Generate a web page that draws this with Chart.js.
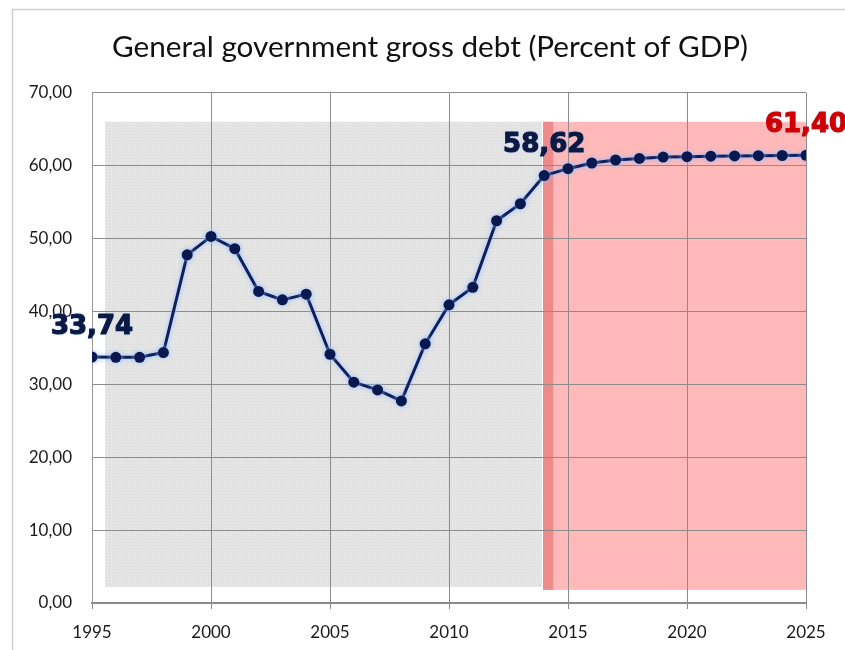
<!DOCTYPE html>
<html>
<head>
<meta charset="utf-8">
<title>General government gross debt</title>
<script src="https://cdn.jsdelivr.net/npm/chart.js@4/dist/chart.umd.min.js"></script>
<style>
  html, body { margin: 0; padding: 0; background: #ffffff; }
  #wrap { width: 845px; height: 650px; position: relative; }
</style>
</head>
<body>
<div id="wrap"><canvas id="chart" width="845" height="650"></canvas></div>
<script>
// Years on the horizontal axis
const years = [1995, 1996, 1997, 1998, 1999, 2000, 2001, 2002, 2003, 2004,
               2005, 2006, 2007, 2008, 2009, 2010, 2011, 2012, 2013, 2014,
               2015, 2016, 2017, 2018, 2019, 2020, 2021, 2022, 2023, 2024, 2025];

// Gross debt, percent of GDP
const debtPct = [33.74, 33.70, 33.70, 34.35, 47.76, 50.28, 48.60, 42.73, 41.58, 42.36,
                 34.12, 30.29, 29.23, 27.72, 35.55, 40.90, 43.30, 52.43, 54.76, 58.62,
                 59.57, 60.35, 60.76, 60.98, 61.17, 61.22, 61.28, 61.32, 61.35, 61.38, 61.40];

// Points that carry a value label, and the label colours
const labelledYears = [1995, 2014, 2025];
const labelColors = ['#0b1a45', '#0b1a45', '#d00000'];

// Tick values
const yTicks = [0, 10, 20, 30, 40, 50, 60, 70];
const xTicks = [1995, 2000, 2005, 2010, 2015, 2020, 2025];

// Shaded periods (in axis units): actual data and projection
const actualPeriod = { from: 1995.55, to: 2013.9, low: 2.2, high: 66.0 };
const projectionPeriod = { from: 2013.95, to: 2025, low: 1.8, high: 66.0 };
const projectionEdge = { from: 2013.95, to: 2014.38 };

const fmt = v => v.toFixed(2).replace('.', ',');

// Fine dotted grey fill for the historical period
function dottedPattern(ctx) {
  const c = document.createElement('canvas');
  c.width = 3; c.height = 3;
  const g = c.getContext('2d');
  g.fillStyle = '#e1e1e1';
  g.fillRect(0, 0, 3, 3);
  g.fillStyle = '#ececec';
  g.fillRect(0, 0, 1, 1);
  g.fillRect(2, 1, 1, 1);
  return ctx.createPattern(c, 'repeat');
}

// Outer frame and shaded periods, drawn beneath the grid
const backdrop = {
  id: 'backdrop',
  beforeDraw(chart) {
    const { ctx, scales: { x, y } } = chart;
    ctx.save();
    // frame
    ctx.strokeStyle = '#cfcfcf';
    ctx.lineWidth = 1.5;
    ctx.beginPath();
    ctx.moveTo(12.5, chart.height);
    ctx.lineTo(12.5, 9.5);
    ctx.lineTo(chart.width, 9.5);
    ctx.stroke();

    const rect = (p, lo, hi) => {
      const x0 = x.getPixelForValue(p.from), x1 = x.getPixelForValue(p.to);
      const y0 = y.getPixelForValue(hi), y1 = y.getPixelForValue(lo);
      return [x0, y0, x1 - x0, y1 - y0];
    };
    ctx.fillStyle = dottedPattern(ctx);
    ctx.fillRect(...rect(actualPeriod, actualPeriod.low, actualPeriod.high));
    ctx.fillStyle = '#ffb9b9';
    ctx.fillRect(...rect(projectionPeriod, projectionPeriod.low, projectionPeriod.high));
    ctx.fillStyle = '#ee8a8a';
    ctx.fillRect(...rect(projectionEdge, projectionPeriod.low, projectionPeriod.high));
    ctx.restore();
  }
};

// Soft light-blue glow around the series
const glow = {
  id: 'glow',
  beforeDatasetDraw(chart) {
    const ctx = chart.ctx;
    ctx.save();
    ctx.shadowColor = 'rgba(150,190,255,1)';
    ctx.shadowBlur = 5;
  },
  afterDatasetDraw(chart) {
    chart.ctx.restore();
  }
};

// Value labels above selected points
const valueLabels = {
  id: 'valueLabels',
  afterDatasetsDraw(chart) {
    const { ctx } = chart;
    const meta = chart.getDatasetMeta(0);
    ctx.save();
    ctx.font = 'bold 26px "DejaVu Sans"';
    ctx.textAlign = 'center';
    ctx.textBaseline = 'middle';
    ctx.lineWidth = 1.2;
    ctx.lineJoin = 'round';
    labelledYears.forEach((yr, k) => {
      const i = years.indexOf(yr);
      const pt = meta.data[i];
      const text = fmt(debtPct[i]);
      ctx.shadowColor = 'rgba(150,190,255,0.7)';
      ctx.shadowBlur = 3;
      ctx.fillStyle = labelColors[k];
      ctx.strokeStyle = labelColors[k];
      ctx.fillText(text, pt.x, pt.y - 30);
      ctx.shadowBlur = 0;
      ctx.strokeText(text, pt.x, pt.y - 30);
    });
    ctx.restore();
  }
};

new Chart(document.getElementById('chart'), {
  type: 'line',
  data: {
    datasets: [{
      label: 'General government gross debt',
      data: years.map((yr, i) => ({ x: yr, y: debtPct[i] })),
      borderColor: '#0d1f5e',
      backgroundColor: '#0a1850',
      borderWidth: 3,
      pointRadius: 5.5,
      pointBorderWidth: 0,
      pointBackgroundColor: '#0a1850',
      tension: 0,
      fill: false
    }]
  },
  options: {
    responsive: false,
    animation: false,
    layout: { padding: { left: 15, right: 0, top: 0, bottom: 0 } },
    plugins: {
      legend: { display: false },
      tooltip: { enabled: false },
      title: {
        display: true,
        text: 'General government gross debt (Percent of GDP)',
        color: '#111111',
        font: { family: 'Lato', size: 29.7, weight: 'normal' },
        padding: { top: 30, bottom: 27 }
      }
    },
    scales: {
      x: {
        type: 'linear',
        min: 1995,
        max: 2025,
        afterBuildTicks: s => { s.ticks = xTicks.map(v => ({ value: v })); },
        afterFit: s => { s.height = 47; },
        ticks: {
          color: '#1a1a1a',
          font: { family: 'Lato', size: 17 },
          padding: 13,
          maxRotation: 0,
          callback: v => String(v)
        },
        grid: { color: '#8c8c8c', lineWidth: 1, drawTicks: true, tickLength: 6 },
        border: { color: '#8a8a8a', width: 2 }
      },
      y: {
        min: 0,
        max: 70,
        afterBuildTicks: s => { s.ticks = yTicks.map(v => ({ value: v })); },
        afterFit: s => { s.width = 77; },
        ticks: {
          color: '#1a1a1a',
          font: { family: 'Lato', size: 17 },
          padding: 20,
          callback: v => fmt(v)
        },
        grid: { color: '#8c8c8c', lineWidth: 1, drawTicks: false },
        border: { color: '#9a9a9a', width: 1 }
      },
      // empty right-hand margin beside the plot
      spacer: {
        type: 'linear',
        position: 'right',
        afterFit: s => { s.width = 39; },
        ticks: { display: false },
        grid: { display: false, drawTicks: false },
        border: { display: false }
      }
    }
  },
  plugins: [backdrop, glow, valueLabels]
});
</script>
</body>
</html>
